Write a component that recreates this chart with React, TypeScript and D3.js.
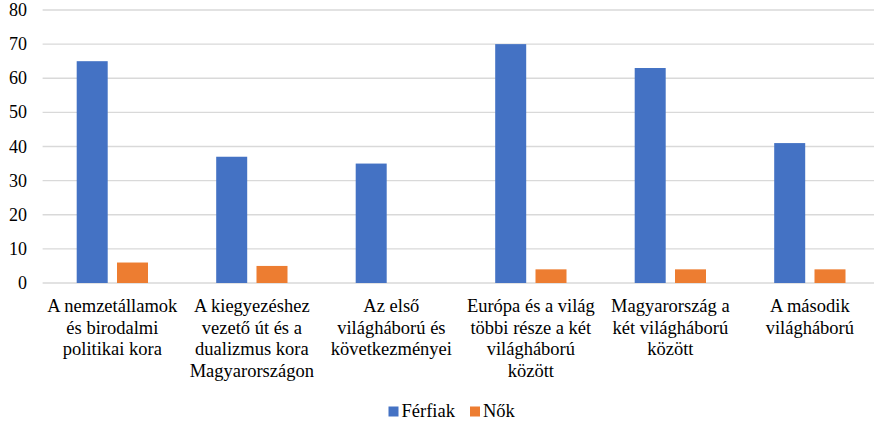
import React from "react";
import * as d3 from "d3";

const categories: string[][] = [
  ["A nemzetállamok", "és birodalmi", "politikai kora"],
  ["A kiegyezéshez", "vezető út és a", "dualizmus kora", "Magyarországon"],
  ["Az első", "világháború és", "következményei"],
  ["Európa és a világ", "többi része a két", "világháború", "között"],
  ["Magyarország a", "két világháború", "között"],
  ["A második", "világháború"],
];
const ferfiak = [65, 37, 35, 70, 63, 41];
const nok = [6, 5, 0, 4, 4, 4];
const seriesNames = ["Férfiak", "Nők"];
const yTicks = [0, 10, 20, 30, 40, 50, 60, 70, 80];

const W = 874;
const H = 423;
const colors = ["#4472C4", "#ED7D31"];
const FONT = "Liberation Serif";

export default function App() {
  const left = 42.6;
  const right = 879.6;
  const top = 10;
  const bottom = 283;
  const idx = categories.map((_, i) => String(i));
  const x = d3.scaleBand<string>().domain(idx).range([left, right]).paddingInner(0).paddingOuter(0);
  const y = d3.scaleLinear().domain([0, 80]).range([bottom, top]);
  const barW = 31;
  const gap = 9.3;
  const series = [ferfiak, nok];

  return (
    <svg width={W} height={H} style={{ position: "absolute", left: 0, top: 0, background: "#fff", fontFamily: FONT }}>
      <style>{`text, tspan { font-family: "Liberation Serif", "Times New Roman", serif !important; }`}</style>
      {yTicks.map((t) => (
        <g key={t}>
          <line x1={left} x2={W} y1={y(t)} y2={y(t)} stroke="#d9d9d9" strokeWidth={1.3} />
          <text x={27} y={y(t) + 6} textAnchor="end" fontSize={18} fill="#000">
            {t}
          </text>
        </g>
      ))}
      {categories.map((_, i) => {
        const c = x(String(i))! + x.bandwidth() / 2;
        const gx = c - (barW * 2 + gap) / 2;
        return (
          <g key={i}>
            {series.map((s, k) =>
              s[i] > 0 ? (
                <rect
                  key={k}
                  x={gx + k * (barW + gap)}
                  y={y(s[i])}
                  width={barW}
                  height={y(0) - y(s[i])}
                  fill={colors[k]}
                />
              ) : null
            )}
          </g>
        );
      })}
      {categories.map((lines, i) => {
        const c = x(String(i))! + x.bandwidth() / 2;
        return (
          <text key={i} textAnchor="middle" fontSize={18.5} fill="#000">
            {lines.map((l, j) => (
              <tspan key={j} x={c} y={312 + j * 21.7}>
                {l}
              </tspan>
            ))}
          </text>
        );
      })}
      <rect x={388.5} y={406.5} width={10} height={10} fill={colors[0]} />
      <text x={401.5} y={416.5} fontSize={18.5} fill="#000">
        {seriesNames[0]}
      </text>
      <rect x={470} y={406.5} width={10} height={10} fill={colors[1]} />
      <text x={483} y={416.5} fontSize={18.5} fill="#000">
        {seriesNames[1]}
      </text>
    </svg>
  );
}
